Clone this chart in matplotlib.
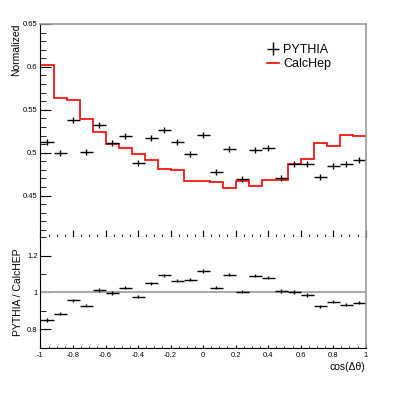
import matplotlib.pyplot as plt
import numpy as np
from matplotlib.ticker import MultipleLocator

plt.rcParams['font.family'] = ['Liberation Sans', 'DejaVu Sans']

# ========== Data ==========
bin_edges = np.linspace(-1, 1, 26)
bin_centers = 0.5 * (bin_edges[:-1] + bin_edges[1:])

pythia = [0.513, 0.500, 0.538, 0.501, 0.532, 0.511, 0.519, 0.488, 0.517, 0.527,
          0.512, 0.499, 0.521, 0.478, 0.504, 0.469, 0.503, 0.505, 0.471, 0.487,
          0.487, 0.472, 0.484, 0.487, 0.491]
pythia_err = 0.0035

calchep = [0.602, 0.564, 0.562, 0.539, 0.524, 0.510, 0.505, 0.498, 0.491, 0.481,
           0.480, 0.467, 0.467, 0.466, 0.459, 0.467, 0.461, 0.468, 0.468, 0.487,
           0.493, 0.511, 0.508, 0.521, 0.519]

ratio = [0.850, 0.885, 0.957, 0.928, 1.013, 0.998, 1.027, 0.978, 1.049, 1.094,
         1.065, 1.069, 1.116, 1.026, 1.096, 1.005, 1.091, 1.080, 1.008, 1.002,
         0.986, 0.924, 0.951, 0.933, 0.944]
ratio_err = 0.009

half_w = 0.04


def fmt_g(v, p):
    if abs(v) < 1e-9:
        return '0'
    return f'{v:g}'


# ========== Figure ==========
fig = plt.figure(figsize=(4.07, 3.96), dpi=100)
ax1 = fig.add_axes([0.0995, 0.4008, 0.799, 0.5386])
ax2 = fig.add_axes([0.0995, 0.1220, 0.799, 0.2788])

# ---- top panel ----
ax1.stairs(calchep, bin_edges, color='#ff0000', linewidth=1.2, label='CalcHep', baseline=None)
ax1.errorbar(bin_centers, pythia, xerr=half_w, yerr=pythia_err, fmt='none',
             ecolor='black', elinewidth=1.0, label='PYTHIA')
ax1.set_xlim(-1, 1)
ax1.set_ylim(0.4015, 0.65)
ax1.yaxis.set_major_locator(MultipleLocator(0.05))
ax1.yaxis.set_minor_locator(MultipleLocator(0.01))
ax1.xaxis.set_major_locator(MultipleLocator(0.2))
ax1.xaxis.set_minor_locator(MultipleLocator(0.05))
ax1.yaxis.set_major_formatter(plt.FuncFormatter(fmt_g))
ax1.tick_params(axis='x', which='both', direction='in', labelbottom=False, top=False)
ax1.tick_params(axis='x', which='major', length=5)
ax1.tick_params(axis='x', which='minor', length=2.5)
ax1.tick_params(axis='y', which='both', direction='in', right=False, labelsize=5.5, pad=2)
ax1.tick_params(axis='y', which='major', length=8)
ax1.tick_params(axis='y', which='minor', length=4)
ax1.set_ylabel('Normalized', fontsize=7.5, loc='top', labelpad=1)
for s in ['top', 'right']:
    ax1.spines[s].set_color('#999999')
    ax1.spines[s].set_linewidth(1.2)

handles, labels = ax1.get_legend_handles_labels()
order = [labels.index('PYTHIA'), labels.index('CalcHep')]
leg = ax1.legend([handles[i] for i in order], [labels[i] for i in order],
                 loc='upper left', bbox_to_anchor=(0.68, 0.93), frameon=False,
                 fontsize=9, handlelength=1.0, handletextpad=0.3, labelspacing=0.2,
                 borderaxespad=0)

# ---- ratio panel ----
ax2.axhline(1.0, color='#aaaaaa', linewidth=1.5)
ax2.errorbar(bin_centers, ratio, xerr=half_w, yerr=ratio_err, fmt='none',
             ecolor='black', elinewidth=1.0)
ax2.set_xlim(-1, 1)
ax2.set_ylim(0.7, 1.3)
ax2.yaxis.set_major_locator(MultipleLocator(0.2))
ax2.yaxis.set_minor_locator(MultipleLocator(0.1))
ax2.xaxis.set_major_locator(MultipleLocator(0.2))
ax2.xaxis.set_minor_locator(MultipleLocator(0.05))
ax2.tick_params(axis='x', which='both', direction='in', labelsize=5.5, pad=3)
ax2.tick_params(axis='x', which='major', length=2.5)
ax2.tick_params(axis='x', which='minor', length=1.2)
ax2.tick_params(axis='y', which='both', direction='in', right=False, labelsize=5.5, pad=2)
ax2.tick_params(axis='y', which='major', length=8)
ax2.tick_params(axis='y', which='minor', length=4)
ax2.xaxis.set_major_formatter(plt.FuncFormatter(fmt_g))
ax2.yaxis.set_major_formatter(plt.FuncFormatter(fmt_g))
ax2.set_ylabel('PYTHIA / CalcHEP', fontsize=7.5, labelpad=3)
ax2.set_xlabel('cos(Δθ)', fontsize=7.5, loc='right', labelpad=2)
ax2.spines['right'].set_color('#999999')
ax2.spines['right'].set_linewidth(1.2)
ax2.spines['top'].set_visible(False)

fig.savefig('out.png', dpi=100)
